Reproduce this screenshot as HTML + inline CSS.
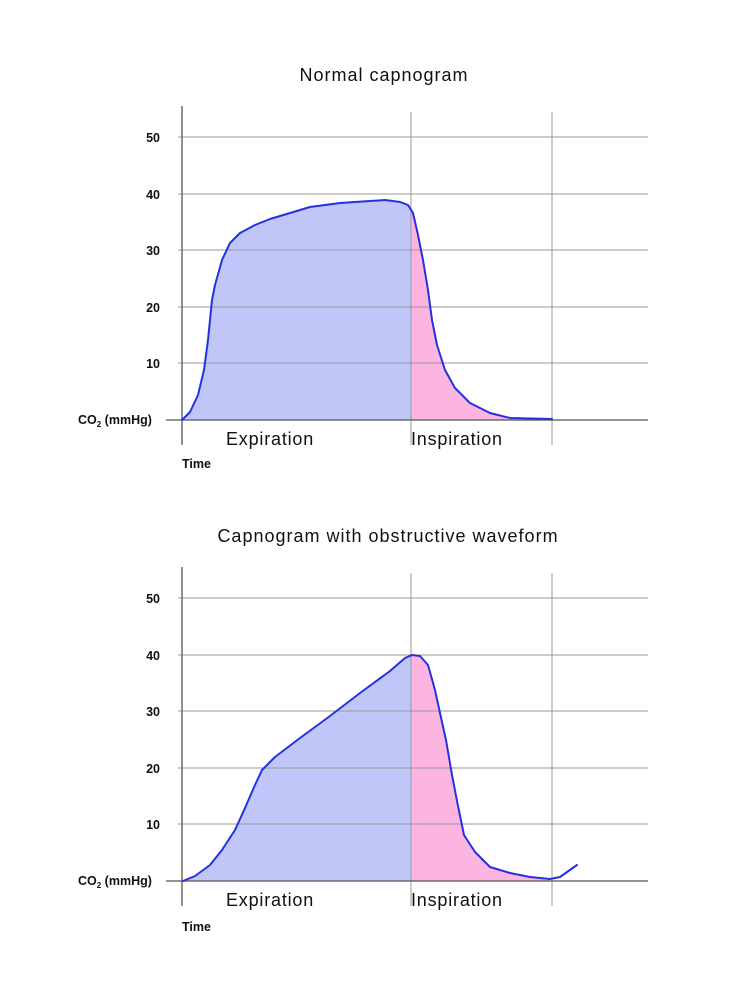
<!DOCTYPE html>
<html><head><meta charset="utf-8"><style>
html,body{margin:0;padding:0;background:#fff;}
svg{display:block;font-family:"Liberation Sans","DejaVu Sans",sans-serif;}
.t{font-size:18px;fill:#111;letter-spacing:1px;}
.k{font-size:12.5px;font-weight:bold;fill:#111;}
.x{font-size:18px;fill:#111;letter-spacing:0.8px;}
.g{stroke:#9a9a9a;stroke-width:1;}
.c{fill:none;stroke:#2233dd;stroke-width:2;stroke-linejoin:round;stroke-linecap:round;}
</style></head><body>
<svg width="741" height="999" viewBox="0 0 741 999">
<defs>
<clipPath id="cl1"><rect x="0" y="0" width="411" height="999"/></clipPath>
<clipPath id="cr1"><rect x="411" y="0" width="330" height="999"/></clipPath>
</defs>
<g id="c1">
<text class="t" x="384" y="81" text-anchor="middle">Normal capnogram</text>
<path clip-path="url(#cl1)" fill="#c0c6f8" d="M182,420 L190,412 198,395 204,370 208,340 212,300 215,285 222,260 230,243 240,233 255,225 270,219 290,213 310,207 340,203 370,201 385,200 400,202 408,205 413,213 418,235 423,260 428,290 432,320 437,345 445,370 455,388 470,403 490,413 510,418 552,419 L552,420 Z"/>
<path clip-path="url(#cr1)" fill="#fcb4e0" d="M182,420 L190,412 198,395 204,370 208,340 212,300 215,285 222,260 230,243 240,233 255,225 270,219 290,213 310,207 340,203 370,201 385,200 400,202 408,205 413,213 418,235 423,260 428,290 432,320 437,345 445,370 455,388 470,403 490,413 510,418 552,419 L552,420 Z"/>
<g class="g">
<line x1="178" y1="137" x2="648" y2="137"/><line x1="178" y1="194" x2="648" y2="194"/>
<line x1="178" y1="250" x2="648" y2="250"/><line x1="178" y1="307" x2="648" y2="307"/>
<line x1="178" y1="363" x2="648" y2="363"/>
<line x1="411" y1="112" x2="411" y2="445"/><line x1="552" y1="112" x2="552" y2="445"/>
</g>
<line x1="166" y1="420" x2="648" y2="420" stroke="#555" stroke-width="1.3"/>
<line x1="182" y1="106" x2="182" y2="445" stroke="#555" stroke-width="1.3"/>
<path class="c" d="M182,420 L190,412 198,395 204,370 208,340 212,300 215,285 222,260 230,243 240,233 255,225 270,219 290,213 310,207 340,203 370,201 385,200 400,202 408,205 413,213 418,235 423,260 428,290 432,320 437,345 445,370 455,388 470,403 490,413 510,418 552,419"/>
<text class="k" x="160" y="142" text-anchor="end">50</text>
<text class="k" x="160" y="199" text-anchor="end">40</text>
<text class="k" x="160" y="255" text-anchor="end">30</text>
<text class="k" x="160" y="312" text-anchor="end">20</text>
<text class="k" x="160" y="368" text-anchor="end">10</text>
<text class="k" x="78" y="424">CO<tspan font-size="8" dy="3">2</tspan><tspan dy="-3"> (mmHg)</tspan></text>
<text class="x" x="226" y="445">Expiration</text>
<text class="x" x="411" y="445">Inspiration</text>
<text class="k" x="182" y="468">Time</text>
</g>
<g transform="translate(0,461)">
<text class="t" x="388" y="81" text-anchor="middle">Capnogram with obstructive waveform</text>
<path clip-path="url(#cl1)" fill="#c0c6f8" d="M183,420 L195,415 210,404 222,389 235,369 245,347 255,324 262,309 275,296 300,277 330,255 360,232 390,210 405,197 412,194 420,195 428,204 435,229 440,252 446,279 452,314 458,345 464,374 475,391 490,406 510,412 530,416 550,418 L550,420 Z"/>
<path clip-path="url(#cr1)" fill="#fcb4e0" d="M183,420 L195,415 210,404 222,389 235,369 245,347 255,324 262,309 275,296 300,277 330,255 360,232 390,210 405,197 412,194 420,195 428,204 435,229 440,252 446,279 452,314 458,345 464,374 475,391 490,406 510,412 530,416 550,418 L550,420 Z"/>
<g class="g">
<line x1="178" y1="137" x2="648" y2="137"/><line x1="178" y1="194" x2="648" y2="194"/>
<line x1="178" y1="250" x2="648" y2="250"/><line x1="178" y1="307" x2="648" y2="307"/>
<line x1="178" y1="363" x2="648" y2="363"/>
<line x1="411" y1="112" x2="411" y2="445"/><line x1="552" y1="112" x2="552" y2="445"/>
</g>
<line x1="166" y1="420" x2="648" y2="420" stroke="#555" stroke-width="1.3"/>
<line x1="182" y1="106" x2="182" y2="445" stroke="#555" stroke-width="1.3"/>
<path class="c" d="M183,420 L195,415 210,404 222,389 235,369 245,347 255,324 262,309 275,296 300,277 330,255 360,232 390,210 405,197 412,194 420,195 428,204 435,229 440,252 446,279 452,314 458,345 464,374 475,391 490,406 510,412 530,416 550,418 560,416 577,404"/>
<text class="k" x="160" y="142" text-anchor="end">50</text>
<text class="k" x="160" y="199" text-anchor="end">40</text>
<text class="k" x="160" y="255" text-anchor="end">30</text>
<text class="k" x="160" y="312" text-anchor="end">20</text>
<text class="k" x="160" y="368" text-anchor="end">10</text>
<text class="k" x="78" y="424">CO<tspan font-size="8" dy="3">2</tspan><tspan dy="-3"> (mmHg)</tspan></text>
<text class="x" x="226" y="445">Expiration</text>
<text class="x" x="411" y="445">Inspiration</text>
<text class="k" x="182" y="470">Time</text>
</g>
</svg>
</body></html>
